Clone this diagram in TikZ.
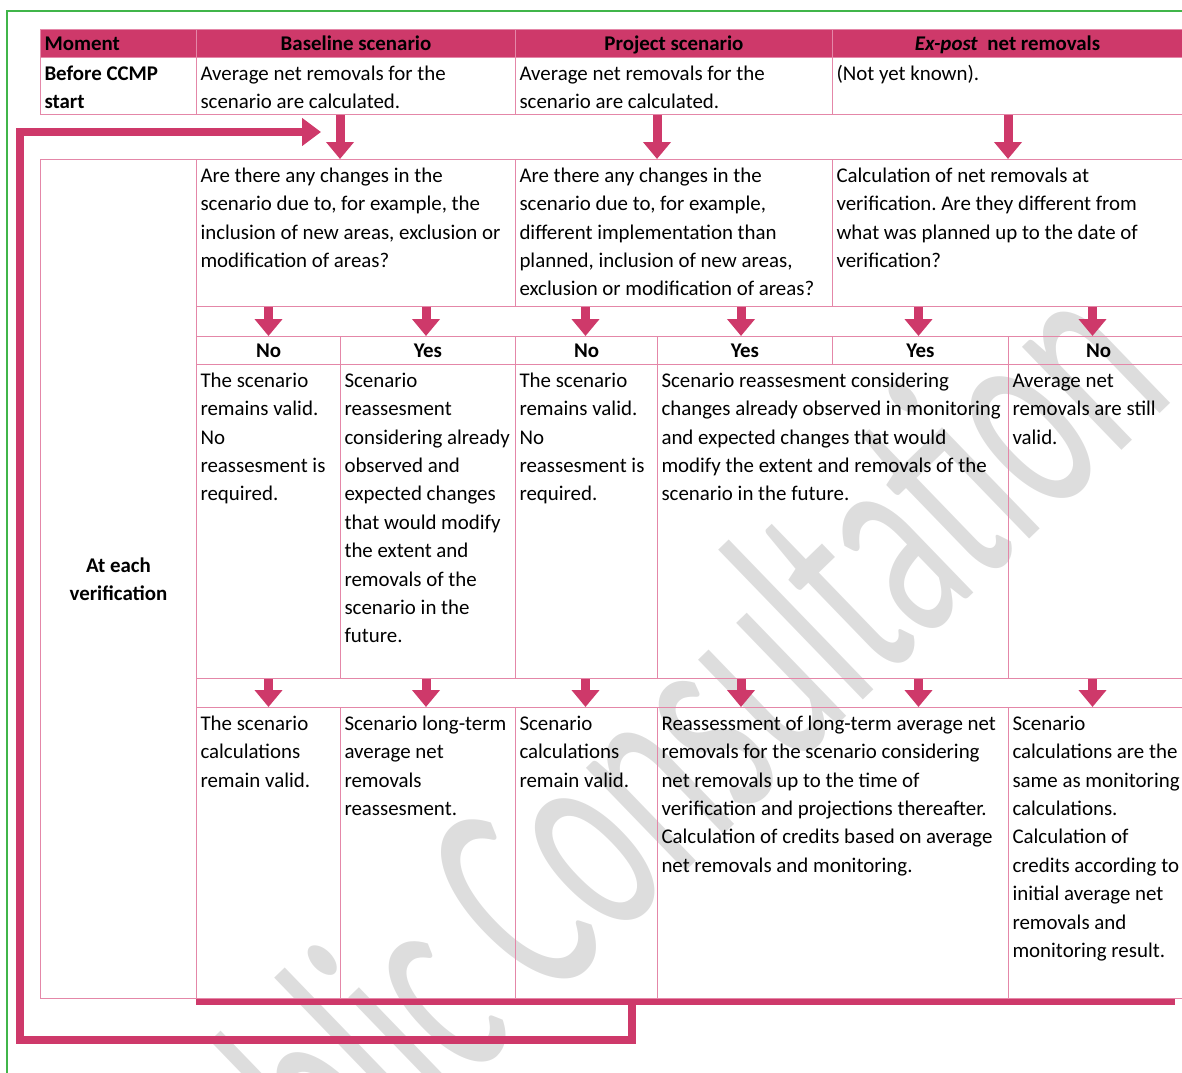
\documentclass[tikz,border=0pt]{standalone}
\usepackage{fontspec}
\setmainfont{Carlito}
\frenchspacing
\usetikzlibrary{arrows.meta, calc, positioning}

\definecolor{crimson}{RGB}{206,57,106}
\definecolor{rosy}{RGB}{228,135,168}
\definecolor{framegreen}{RGB}{64,181,74}
\definecolor{wmgray}{RGB}{221,221,221}

\newcommand{\cellfont}{\fontsize{20.9}{28.4}\selectfont}
% top aligned cell text: width, height, text
\newcommand{\cellbox}[3]{\parbox[t][#2pt][t]{#1pt}{\raggedright\leftskip=4pt\vspace*{3pt}\leavevmode\strut #3}}

\tikzset{
  cell/.style={draw=rosy, line width=1pt, anchor=north west, inner sep=0pt, font=\cellfont},
  headcell/.style={cell, fill=crimson, minimum height=28pt, text height=17pt, text depth=3pt, font=\cellfont\bfseries},
  ynlabel/.style={cell, minimum height=28pt, text height=17pt, text depth=3pt, font=\cellfont\bfseries},
  blockarrow/.style={draw=crimson, line width=9pt, -{Triangle[width=27pt,length=17pt]}},
  loopback/.style={draw=crimson, line width=8pt, -{Triangle[width=27pt,length=19pt]}},
  loopbar/.style={draw=crimson, line width=6.5pt},
  greenframe/.style={draw=framegreen, line width=2.5pt},
  watermark/.style={text=wmgray, font=\fontsize{300}{320}\selectfont, inner sep=0pt}
}

\begin{document}
\begin{tikzpicture}[x=1pt, y=-1pt]
  \useasboundingbox (0,0) rectangle (1182,1072);
  \clip (0,0) rectangle (1182,1072);

  \node (wmark) [watermark, anchor=base west, rotate=44, xscale=0.57] at (218,1323) {Public Consultation};

  \draw[greenframe] (7,1080) |- (1190,11);

  %------------------------------------------------------------------
  \node (hMoment) [headcell, minimum width=156pt] at (40,29) {\makebox[148pt][l]{Moment}};
  \node (hBase) [headcell, minimum width=319pt] at (196,29) {Baseline scenario};
  \node (hProj) [headcell, minimum width=317pt] at (515,29) {Project scenario};
  \node (hExpost) [headcell, minimum width=350pt] at (832,29) {\textit{Ex-post}~ net removals};

  \node (mBefore) [cell] at (40,57) {\cellbox{156}{57}{\bfseries Before CCMP\\start}};
  \node (bBefore) [cell] at (196,57) {\cellbox{319}{57}{Average net removals for the\\scenario are calculated.}};
  \node (pBefore) [cell] at (515,57) {\cellbox{317}{57}{Average net removals for the\\scenario are calculated.}};
  \node (eBefore) [cell] at (832,57) {\cellbox{356}{57}{(Not yet known).}};

  %------------------------------------------------------------------
  \node (mVerif) [cell, minimum width=156pt, minimum height=839pt, align=center, font=\cellfont\bfseries] at (40,159) {At each\\verification};

  \node (bQuest) [cell] at (196,159) {\cellbox{319}{147}{Are there any changes in the\\scenario due to, for example, the\\inclusion of new areas, exclusion or\\modification of areas?}};
  \node (pQuest) [cell] at (515,159) {\cellbox{317}{147}{Are there any changes in the\\scenario due to, for example,\\different implementation than\\planned, inclusion of new areas,\\exclusion or modification of areas?}};
  \node (eQuest) [cell] at (832,159) {\cellbox{356}{147}{Calculation of net removals at\\verification. Are they different from\\what was planned up to the date of\\verification?}};

  \node (no1) [ynlabel, minimum width=144pt] at (196,336) {No};
  \node (yes1) [ynlabel, minimum width=175pt] at (340,336) {Yes};
  \node (no2) [ynlabel, minimum width=142pt] at (515,336) {No};
  \node (yes2) [ynlabel, minimum width=175pt] at (657,336) {Yes};
  \node (yes3) [ynlabel, minimum width=176pt] at (832,336) {Yes};
  \node (no3) [ynlabel, minimum width=180pt] at (1008,336) {No};

  \node (res1) [cell] at (196,364) {\cellbox{144}{314}{The scenario\\remains valid.\\No\\reassesment is\\required.}};
  \node (res2) [cell] at (340,364) {\cellbox{175}{314}{Scenario\\reassesment\\considering already\\observed and\\expected changes\\that would modify\\the extent and\\removals of the\\scenario in the\\future.}};
  \node (res3) [cell] at (515,364) {\cellbox{142}{314}{The scenario\\remains valid.\\No\\reassesment is\\required.}};
  \node (res4) [cell] at (657,364) {\cellbox{351}{314}{Scenario reassesment considering\\changes already observed in monitoring\\and expected changes that would\\modify the extent and removals of the\\scenario in the future.}};
  \node (res5) [cell] at (1008,364) {\cellbox{180}{314}{Average net\\removals are still\\valid.}};

  \node (fin1) [cell] at (196,707) {\cellbox{144}{291}{The scenario\\calculations\\remain valid.}};
  \node (fin2) [cell] at (340,707) {\cellbox{175}{291}{Scenario long-term\\average net\\removals\\reassesment.}};
  \node (fin3) [cell] at (515,707) {\cellbox{142}{291}{Scenario\\calculations\\remain valid.}};
  \node (fin4) [cell] at (657,707) {\cellbox{351}{291}{Reassessment of long-term average net\\removals for the scenario considering\\net removals up to the time of\\verification and projections thereafter.\\Calculation of credits based on average\\net removals and monitoring.}};
  \node (fin5) [cell] at (1008,707) {\cellbox{180}{291}{Scenario\\calculations are the\\same as monitoring\\calculations.\\Calculation of\\credits according to\\initial average net\\removals and\\monitoring result.}};

  %------------------------------------------------------------------
  \draw[blockarrow] (bBefore.south -| yes1.west) -- (bQuest.north -| yes1.west);
  \draw[blockarrow] (pBefore.south -| yes2.west) -- (pQuest.north -| yes2.west);
  \draw[blockarrow] (eBefore.south -| no3.west) -- (eQuest.north -| no3.west);

  \foreach \col/\dx in {no1/0, yes1/-2, no2/-1, yes2/-4, yes3/-2, no3/-6} {
    \draw[blockarrow] ($(bQuest.south -| \col)+(\dx,0)$) -- ($(\col.north)+(\dx,0)$);
    \draw[blockarrow] ($(res1.south -| \col)+(\dx,0)$) -- ($(fin1.north -| \col)+(\dx,0)$);
  }

  % back to the next verification
  \draw[loopbar] ($(fin1.south west)+(0,3)$) -- ($(fin1.south west)+(979,3)$);
  \coordinate (loopstart) at (632,1005);
  \coordinate (loopcorner) at (20,1040);
  \coordinate (loopend) at (321,132);
  \draw[loopback] (loopstart) |- (loopcorner) |- (loopend);
\end{tikzpicture}
\end{document}
